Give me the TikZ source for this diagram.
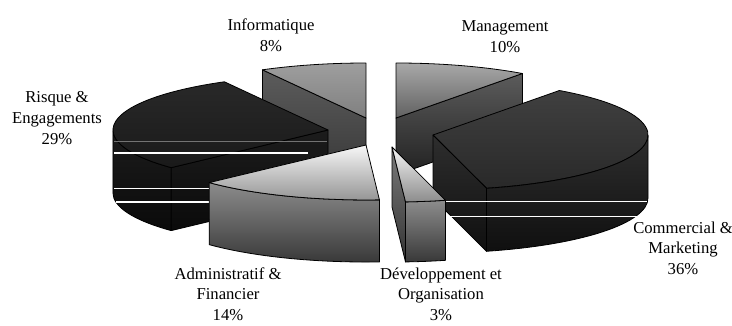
\documentclass[tikz,border=0pt]{standalone}
\usepackage{fontspec}
\setmainfont{Liberation Serif}
\usepackage{xcolor}
\usetikzlibrary{positioning}
\tikzset{
face/.style = {draw=black, line width=0.6pt, line join=round},
info_top/.style = {face, top color=black!38, bottom color=black!50},% informatique, dessus
info_side/.style = {face, top color=black!64, bottom color=black!78},
mgmt_top/.style = {face, top color=black!34, bottom color=black!62},% management, dessus
mgmt_side/.style = {face, top color=black!64, bottom color=black!87},
risk_top/.style = {face, top color=black!84, bottom color=black!90},% risque, dessus
risk_side/.style = {face, top color=black!89, bottom color=black!96},
comm_top/.style = {face, top color=black!75, bottom color=black!84},% commercial, dessus
comm_side/.style = {face, top color=black!82, bottom color=black!94},
adm_top/.style = {face, top color=black!3, bottom color=black!42},% administratif, dessus
adm_side/.style = {face, top color=black!45, bottom color=black!78},
dev_top/.style = {face, top color=black!4, bottom color=black!45},% developpement, dessus
dev_side/.style = {face, top color=black!52, bottom color=black!80},
gridw/.style = {draw=white, line width=0.8pt},
gridg/.style = {draw=black!55, line width=0.5pt},
lbl/.style = {align=center, inner sep=0pt, font=\fontsize{12.5}{15.5}\selectfont}
}
\begin{document}
\begin{tikzpicture}[x=0.75pt, y=-0.75pt]
\useasboundingbox (0,0) rectangle (732,325);
% part informatique
\path[info_side] (262.4,69.8) -- (366,118) -- (366,176) -- (262.4,127.8) -- cycle;
\path[info_top] (366,118) -- (366,63) arc[start angle=-90, end angle=-118.8, x radius=215, y radius=55] -- cycle;
% part management
\path[mgmt_side] (396,118) -- (522.4,73.5) -- (522.4,130.5) -- (396,175) -- cycle;
\path[mgmt_top] (396,118) -- (396,63) arc[start angle=-90, end angle=-54, x radius=215, y radius=55] -- cycle;
% part risque
\path[risk_side] (113,130) arc[start angle=-180, end angle=-223.2, x radius=215, y radius=55]
  -- (171.2,230.6) arc[start angle=-223.2, end angle=-180, x radius=215, y radius=55] -- cycle;
\path[risk_side] (171.2,167.6) -- (328,130) -- (328,193) -- (171.2,230.6) -- cycle;
\path[risk_top] (328,130) -- (224.4,81.8) arc[start angle=-118.8, end angle=-223.2, x radius=215, y radius=55] -- cycle;
\draw[gridg] (114,141.7) -- (327,141.7);
\draw[gridw] (114,153) -- (308,153);
\draw[gridw] (114,188.5) -- (210,188.5);
\draw[gridw] (116,202) -- (210,202);
% part commercial
\path[comm_top] (433,135) -- (559.4,90.5) arc[start angle=-54, end angle=75.6, x radius=215, y radius=55] -- cycle;
\path[comm_side] (486.5,188.3) arc[start angle=75.6, end angle=0, x radius=215, y radius=55]
  -- (648,198) arc[start angle=0, end angle=75.6, x radius=215, y radius=55] -- cycle;
\path[comm_side] (433,135) -- (486.5,188.3) -- (486.5,251.3) -- (433,198) -- cycle;
\draw[gridw] (440,201.7) -- (647,201.7);
\draw[gridw] (440,216.7) -- (638,216.7);
% part administratif
\path[adm_side] (209.2,182.6) arc[start angle=-223.2, end angle=-273.6, x radius=215, y radius=55]
  -- (379.5,261.9) arc[start angle=-273.6, end angle=-223.2, x radius=215, y radius=55] -- cycle;
\path[adm_top] (366,145) -- (209.2,182.6) arc[start angle=-223.2, end angle=-273.6, x radius=215, y radius=55] -- cycle;
% part developpement
\path[dev_side] (392,147) -- (405.5,201.9) -- (405.5,261.9) -- (392,207) -- cycle;
\path[adm_side] (405.5,201.9) arc[start angle=-273.6, end angle=-284.4, x radius=215, y radius=55]
  -- (445.5,260.3) arc[start angle=-284.4, end angle=-273.6, x radius=215, y radius=55] -- cycle;
\path[dev_top] (392,147) -- (405.5,201.9) arc[start angle=-273.6, end angle=-284.4, x radius=215, y radius=55] -- cycle;
% etiquettes
\node[lbl] (informatique) at (271,35.5) {Informatique\\8\%};
\node[lbl] (management) at (505,36.5) {Management\\10\%};
\node[lbl] (risque) at (57,118) {Risque \&\\Engagements\\29\%};
\node[lbl] (administratif) at (228,294) {Administratif \&\\Financier\\14\%};
\node[lbl] (developpement) at (441,294) {Développement et\\Organisation\\3\%};
\node[lbl] (commercial) at (683,248) {Commercial \&\\Marketing\\36\%};
\end{tikzpicture}
\end{document}
